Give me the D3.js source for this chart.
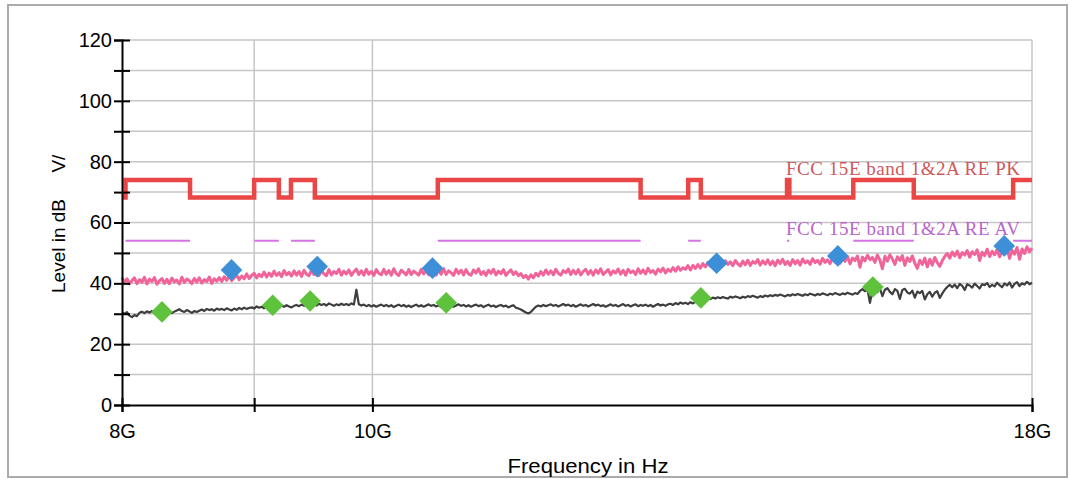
<!DOCTYPE html>
<html><head><meta charset="utf-8">
<script src="https://cdn.jsdelivr.net/npm/d3@7"></script>
<style>body{margin:0;background:#fff}svg{display:block}</style>
</head><body><svg id="chart" width="1069" height="479"></svg>
<script>
// ---------- data ----------
const yTickValues = [0,10,20,30,40,50,60,70,80,90,100,110,120];
const yTickLabels = ["0","","20","","40","","60","","80","","100","","120"];
const xTickValues = [8e9, 9e9, 10e9, 18e9];
const xTickLabels = ["8G", "", "10G", "18G"];
const xGridValues = [9e9, 10e9, 18e9];

// FCC restricted bands (GHz) where the limit is 74 (PK) / 54 (AV)
const restrictedBands = [[8.025,8.5],[9.0,9.2],[9.3,9.5],[10.6,12.7],[13.25,13.4],[14.47,14.5],[15.35,16.2],[17.7,18.0]];
const pkLimitInBand = 74;
const pkLimitOutBand = 68.2;
const avLimitInBand = 54;
const limitLabels = ["FCC 15E band 1&2A RE PK", "FCC 15E band 1&2A RE AV"];

const sweepStartGHz = 8, sweepStopGHz = 18;
const peakTrace = [
41.9,40.2,41.5,39.8,40.9,41.8,39.9,41.2,40.4,42.0,
39.8,41.4,40.6,41.9,39.7,40.8,41.6,40.0,41.3,39.9,
41.7,40.5,41.1,39.8,42.0,40.3,41.4,40.9,39.9,41.6,
40.4,41.8,40.1,41.2,40.6,42.1,40.0,41.5,40.7,41.9,
40.6,42.2,41.0,42.5,40.9,41.8,42.7,41.2,42.4,41.5,
43.1,41.6,42.6,43.3,41.8,43.0,42.2,43.7,42.1,43.4,
42.3,44.0,42.6,43.5,42.2,44.2,42.8,43.6,42.4,44.1,
42.7,43.9,42.3,44.3,43.0,42.5,44.4,42.9,43.8,42.6,
44.2,43.1,42.5,44.5,42.8,43.9,43.2,44.6,42.7,44.0,
43.1,44.4,42.6,43.8,44.7,42.9,44.1,42.7,44.6,43.0,
43.9,42.6,44.5,43.3,42.8,44.6,43.0,44.2,42.7,44.8,
43.2,42.6,44.3,43.6,42.8,44.5,42.9,44.0,43.4,42.7,
44.6,43.1,44.2,42.8,44.7,43.3,42.7,44.4,43.0,44.8,
42.9,44.1,43.5,42.6,44.6,43.2,44.3,42.8,44.5,43.1,
42.7,44.4,43.4,44.8,42.9,43.9,42.6,44.3,43.3,44.6,
42.8,44.0,43.2,44.5,42.6,43.7,44.4,42.9,43.8,42.5,
43.2,41.9,42.6,41.4,42.8,41.8,43.3,42.4,43.9,42.7,
44.4,43.0,44.1,42.8,44.6,43.3,42.7,44.2,43.5,44.7,
42.9,44.3,43.1,44.5,42.8,43.9,44.6,43.0,44.2,42.7,
44.4,43.3,44.8,42.9,43.7,44.5,42.8,44.1,43.4,44.7,
43.0,44.3,42.7,44.6,43.5,44.1,42.9,44.8,43.3,44.4,
43.1,44.9,43.6,44.2,43.0,44.7,43.8,45.0,43.4,44.6,
43.9,45.2,44.0,45.4,44.3,45.1,44.6,45.8,44.4,45.9,
44.9,46.2,45.0,46.5,45.4,46.9,45.6,46.3,47.2,45.8,
47.0,45.9,47.4,46.2,47.1,45.8,47.5,46.4,45.7,47.3,
46.1,47.6,45.9,47.2,46.6,47.8,46.0,47.4,46.3,47.7,
46.1,47.3,45.8,47.6,46.5,47.9,46.2,47.2,45.9,47.8,
46.4,47.5,46.0,48.0,46.7,47.4,46.2,48.1,46.8,47.6,
46.3,48.2,46.9,47.7,46.5,48.4,47.0,48.0,46.6,48.5,
47.2,48.8,46.4,48.3,47.5,49.0,45.3,48.6,47.4,49.2,
47.8,48.5,46.9,49.3,47.6,44.8,48.9,47.3,49.4,48.0,
46.2,48.7,47.5,49.1,45.9,48.4,47.2,49.0,46.6,44.9,
47.6,46.2,48.3,45.4,47.9,46.0,48.5,46.8,45.6,47.4,
48.8,49.8,48.3,50.3,49.0,50.6,48.4,50.1,49.3,50.8,
48.6,50.4,49.5,51.0,47.5,50.2,49.1,51.2,48.8,50.5,
49.4,51.1,48.7,50.6,49.8,51.5,48.2,50.9,49.6,51.8,
47.9,51.3,49.8,52.0,50.4,51.6];
const avgTrace = [
30.4,30.0,30.5,29.4,28.9,29.6,29.2,30.3,30.7,30.2,
30.8,30.4,30.9,30.3,30.7,30.1,30.6,31.0,30.5,30.8,
30.2,30.7,31.1,31.5,30.9,30.6,31.2,30.8,30.3,30.9,
30.6,31.0,31.4,30.9,31.6,31.2,31.5,31.0,31.7,31.3,
31.6,31.2,31.8,31.4,31.1,31.7,31.3,31.9,31.5,32.0,
31.6,31.9,32.1,31.7,32.4,32.0,32.3,31.8,32.5,32.1,
32.6,32.2,32.4,31.9,32.7,32.3,32.8,32.4,32.1,32.6,
32.9,32.5,33.0,32.6,33.2,32.8,32.5,33.1,32.7,33.3,
32.9,33.2,32.7,33.4,33.0,32.6,33.1,32.8,33.3,32.9,
33.2,32.8,33.4,33.0,37.9,33.1,32.7,33.0,32.5,32.9,
32.4,32.8,32.3,32.7,33.0,32.5,32.9,32.4,32.8,32.2,
32.6,33.0,32.5,32.9,32.3,32.7,32.2,32.6,33.0,32.4,
32.8,32.3,32.7,33.1,32.6,32.9,32.4,32.8,32.2,32.6,
33.0,32.5,32.9,32.3,32.7,33.1,32.6,32.9,32.4,32.8,
32.3,32.7,33.0,32.5,32.8,32.2,32.6,33.0,32.4,32.7,
32.2,32.6,32.9,32.4,32.7,32.1,32.5,32.8,32.0,31.7,
31.4,30.9,30.4,30.1,30.6,31.5,32.3,32.7,32.4,32.9,
32.5,32.8,33.1,32.6,32.9,32.4,32.8,33.2,32.7,33.0,
32.5,32.9,32.3,32.7,33.1,32.6,32.9,32.4,32.8,33.2,
32.7,33.0,32.5,32.8,32.3,32.7,33.1,32.6,32.9,32.4,
32.8,33.2,32.6,32.9,32.4,32.8,33.1,32.5,32.9,32.6,
33.0,32.5,32.9,32.3,32.8,33.2,32.7,33.0,32.6,33.1,
33.3,32.9,33.5,33.1,33.7,33.3,33.6,33.2,33.8,33.4,
33.9,34.3,34.0,34.6,34.9,35.2,34.8,35.3,35.0,35.4,
35.1,35.5,35.2,35.0,35.6,35.3,35.7,35.4,35.1,35.6,
35.3,35.8,35.5,35.9,35.6,35.3,35.8,35.5,36.0,35.7,
36.1,35.8,36.2,35.9,36.3,36.0,35.7,36.2,35.9,36.4,
36.1,36.5,36.2,35.9,36.4,36.1,36.6,36.3,36.0,36.5,
36.2,36.7,36.4,36.1,36.6,36.3,36.8,36.5,36.2,36.7,
36.4,36.9,36.6,36.3,36.8,36.5,37.5,38.1,37.4,38.0,
33.6,37.6,38.2,37.1,38.3,35.8,37.9,38.4,37.2,36.4,
38.1,37.5,34.9,37.8,38.2,37.0,36.6,37.6,35.3,37.3,
36.8,37.5,34.7,36.4,37.2,35.6,36.9,37.4,35.2,36.6,
37.9,38.8,39.5,38.7,39.6,38.4,39.8,39.2,37.8,39.7,
39.3,38.6,39.9,39.1,38.3,39.7,39.4,40.1,38.8,39.5,
39.0,40.2,39.4,38.7,40.0,39.3,40.3,38.6,39.8,40.4,
39.1,40.0,39.6,40.5,39.7,40.2];

const peakMarkerFreqGHz = [8.82, 9.52, 10.55, 13.59, 15.14, 17.56];
const peakMarkerLevel   = [44.4, 45.5, 45.0, 46.6, 49.0, 52.3];
const avgMarkerFreqGHz  = [8.29, 9.15, 9.46, 10.68, 13.40, 15.62];
const avgMarkerLevel    = [30.6, 32.8, 34.2, 33.6, 35.2, 38.8];

// ---------- chart ----------
const svg = d3.select("#chart");
const mLeft = 122, mRight = 1032, mTop = 40, mBottom = 405;
const x = d3.scaleLog().domain([8e9, 18e9]).range([mLeft, mRight]);
const y = d3.scaleLinear().domain([0, 120]).range([mBottom, mTop]);
const G = 1e9;
const sans = "Liberation Sans, Arial, sans-serif";

svg.append("rect").attr("width",1069).attr("height",479).attr("fill","#fff");
svg.append("rect").attr("x",8).attr("y",5).attr("width",1059).attr("height",472)
  .attr("fill","none").attr("stroke","#ababab").attr("stroke-width",2);

// grid
const grid = svg.append("g").attr("stroke","#c6c6c6").attr("stroke-width",1.5);
grid.selectAll("line.h").data(yTickValues.filter(v => v > 0)).join("line").attr("class","h")
  .attr("x1", mLeft).attr("x2", mRight).attr("y1", d => y(d)).attr("y2", d => y(d));
grid.selectAll("line.v").data(xGridValues).join("line").attr("class","v")
  .attr("x1", d => x(d)).attr("x2", d => x(d)).attr("y1", mTop).attr("y2", mBottom);

// limit lines
const bandEdges = [];
bandEdges.push({f: sweepStartGHz, v: pkLimitOutBand});
restrictedBands.forEach(([a, b]) => {
  bandEdges.push({f: a, v: pkLimitInBand});
  bandEdges.push({f: b, v: b >= sweepStopGHz ? pkLimitInBand : pkLimitOutBand});
});
const stepLine = d3.line().curve(d3.curveStepAfter).x(d => x(d.f * G)).y(d => y(d.v));
svg.append("path").datum(bandEdges).attr("d", stepLine)
  .attr("fill","none").attr("stroke","#ea4646").attr("stroke-width",4.5);

svg.append("g").selectAll("line").data(restrictedBands).join("line")
  .attr("x1", d => x(d[0] * G)).attr("x2", d => x(d[1] * G))
  .attr("y1", y(avLimitInBand)).attr("y2", y(avLimitInBand))
  .attr("stroke","#d474e2").attr("stroke-width",2);

// labels of limits
svg.append("text").attr("x", 786).attr("y", 175).text(limitLabels[0])
  .attr("font-family","Liberation Serif, serif").attr("font-size",19)
  .attr("textLength",234).attr("lengthAdjust","spacing").attr("fill","#cc5a5a");
svg.append("text").attr("x", 786).attr("y", 235).text(limitLabels[1])
  .attr("font-family","Liberation Serif, serif").attr("font-size",19)
  .attr("textLength",234).attr("lengthAdjust","spacing").attr("fill","#b866cc");

// traces
const N = peakTrace.length;
const sweepFreqGHz = d3.range(N).map(i => sweepStartGHz * Math.pow(sweepStopGHz / sweepStartGHz, i / (N - 1)));
const traceLine = d3.line().x((d, i) => x(sweepFreqGHz[i] * G)).y(d => y(d));
svg.append("path").datum(peakTrace).attr("d", traceLine)
  .attr("fill","none").attr("stroke","#f0649a").attr("stroke-width",3).attr("stroke-linejoin","round");
svg.append("path").datum(avgTrace).attr("d", traceLine)
  .attr("fill","none").attr("stroke","#3e3e3e").attr("stroke-width",2.2).attr("stroke-linejoin","round");

// markers
const diamond = d3.symbol().type(d3.symbolSquare).size(235);
svg.append("g").selectAll("path").data(peakMarkerFreqGHz).join("path")
  .attr("d", diamond)
  .attr("transform", (d, i) => `translate(${x(d * G)},${y(peakMarkerLevel[i])}) rotate(45)`)
  .attr("fill","#3d8fd8");
svg.append("g").selectAll("path").data(avgMarkerFreqGHz).join("path")
  .attr("d", diamond)
  .attr("transform", (d, i) => `translate(${x(d * G)},${y(avgMarkerLevel[i])}) rotate(45)`)
  .attr("fill","#5ec23c");

// axes
const yAxis = svg.append("g").attr("transform", `translate(${mLeft},0)`)
  .call(d3.axisLeft(y).tickValues(yTickValues).tickFormat((d, i) => yTickLabels[i]).tickSize(8).tickPadding(3));
yAxis.select(".domain").attr("stroke","#000").attr("stroke-width",2);
yAxis.selectAll(".tick line").attr("x1", -8).attr("x2", 8).attr("stroke","#000").attr("stroke-width",2);
yAxis.selectAll(".tick text").attr("font-family",sans).attr("font-size",20).attr("fill","#000").attr("x", -10);

const xAxis = svg.append("g").attr("transform", `translate(0,${mBottom})`)
  .call(d3.axisBottom(x).tickValues(xTickValues).tickFormat((d, i) => xTickLabels[i]).tickSize(7).tickPadding(12));
xAxis.select(".domain").attr("stroke","#000").attr("stroke-width",2);
xAxis.selectAll(".tick line").attr("y1", -7).attr("y2", 7).attr("stroke","#000").attr("stroke-width",2);
xAxis.selectAll(".tick text").attr("font-family",sans).attr("font-size",20).attr("fill","#000");

// axis titles
svg.append("text").attr("x", 588).attr("y", 473).attr("text-anchor","middle")
  .attr("font-family",sans).attr("font-size",20)
  .attr("textLength",161).attr("lengthAdjust","spacingAndGlyphs").text("Frequency in Hz");
svg.append("text").attr("transform","translate(65,293) rotate(-90)")
  .attr("font-family",sans).attr("font-size",19)
  .style("white-space","pre").text("Level in dB     V/");
</script></body></html>
